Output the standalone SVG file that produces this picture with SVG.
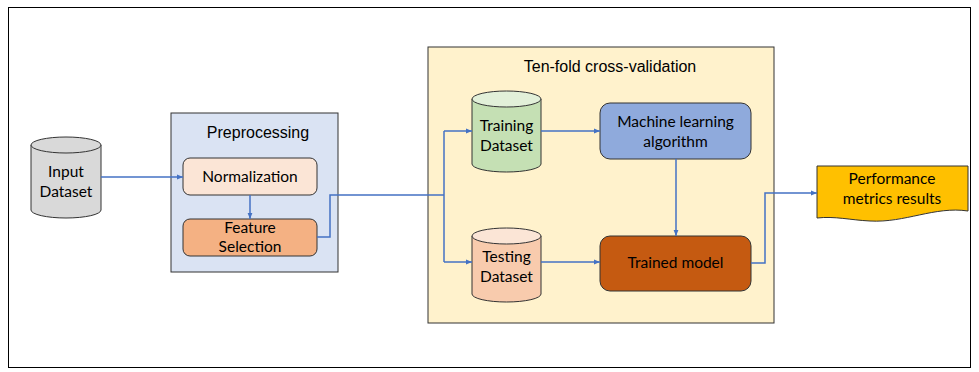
<svg xmlns="http://www.w3.org/2000/svg" width="979" height="372" viewBox="0 0 979 372">
<style>
.lbl{font-family:Lato,"Liberation Sans",sans-serif;font-size:15.5px;fill:#000;text-anchor:middle}
.ttl{font-family:"Liberation Sans",Arial,sans-serif;font-size:16px;fill:#000;text-anchor:middle}
.conn{fill:none;stroke:#4472c4;stroke-width:1.5}
.edge{stroke:#333;stroke-width:1}
</style>
<defs>
<marker id="ah" viewBox="0 0 10 10" refX="10" refY="5" markerWidth="6" markerHeight="6" orient="auto" markerUnits="userSpaceOnUse">
<path d="M0,1 L10,5 L0,9 Z" fill="#4472c4"/>
</marker>
</defs>
<rect x="0" y="0" width="979" height="372" fill="#fff"/>
<rect x="8.5" y="7.5" width="962" height="360" fill="none" stroke="#000" stroke-width="1"/>

<g id="preprocessing">
<rect x="171" y="113" width="167" height="159" fill="#dae3f3" stroke="#333" stroke-width="1"/>
<text class="ttl" x="258" y="138">Preprocessing</text>
</g>
<g id="crossval">
<rect x="428" y="47" width="346" height="276" fill="#fff2cc" stroke="#333" stroke-width="1"/>
<text class="ttl" x="610" y="72">Ten-fold cross-validation</text>
</g>

<g id="input">
<path class="edge" d="M31,145 V210 A35,8 0 0 0 101,210 V145" fill="#d9d9d9"/>
<ellipse class="edge" cx="66" cy="145" rx="35" ry="8" fill="#d9d9d9"/>
<text class="lbl" x="66" y="177">Input</text>
<text class="lbl" x="66" y="197">Dataset</text>
</g>

<g id="normalization">
<rect class="edge" x="183" y="158" width="134" height="37" rx="7" fill="#fbe5d6"/>
<text class="lbl" x="250" y="182">Normalization</text>
</g>
<g id="feature">
<rect class="edge" x="183" y="219" width="134" height="37" rx="7" fill="#f4b183"/>
<text class="lbl" x="250" y="233">Feature</text>
<text class="lbl" x="250" y="252">Selection</text>
</g>

<g id="training">
<path class="edge" d="M472,99 V164 A34.5,8 0 0 0 541,164 V99" fill="#c5e0b4"/>
<ellipse class="edge" cx="506.5" cy="99" rx="34.5" ry="8" fill="#e2f0d9"/>
<text class="lbl" x="506.5" y="131">Training</text>
<text class="lbl" x="506.5" y="151">Dataset</text>
</g>
<g id="testing">
<path class="edge" d="M472,236 V294 A34.5,8 0 0 0 541,294 V236" fill="#f8cbad"/>
<ellipse class="edge" cx="506.5" cy="236" rx="34.5" ry="8" fill="#fbe5d6"/>
<text class="lbl" x="506.5" y="262">Testing</text>
<text class="lbl" x="506.5" y="282">Dataset</text>
</g>

<g id="ml">
<rect class="edge" x="600" y="103" width="151" height="56" rx="10" fill="#8faadc"/>
<text class="lbl" x="675.5" y="127">Machine learning</text>
<text class="lbl" x="675.5" y="147">algorithm</text>
</g>
<g id="trained">
<rect class="edge" x="600" y="236" width="151" height="55" rx="10" fill="#c55a11"/>
<text class="lbl" x="675.5" y="268">Trained model</text>
</g>

<g id="performance">
<path class="edge" d="M817,166 H968 V211 C935,206 905,223 870,221 C850,220 835,216 817,218 Z" fill="#ffc000"/>
<text class="lbl" x="892" y="184">Performance</text>
<text class="lbl" x="892" y="204">metrics results</text>
</g>

<g id="connectors">
<path class="conn" d="M101,177 H183" marker-end="url(#ah)"/>
<path class="conn" d="M250,195 V219" marker-end="url(#ah)"/>
<path class="conn" d="M317,237 H330 V195 H444"/>
<path class="conn" d="M444,131 V262"/>
<path class="conn" d="M444,131 H472" marker-end="url(#ah)"/>
<path class="conn" d="M444,262 H472" marker-end="url(#ah)"/>
<path class="conn" d="M541,131 H600" marker-end="url(#ah)"/>
<path class="conn" d="M541,262 H600" marker-end="url(#ah)"/>
<path class="conn" d="M676,159 V236" marker-end="url(#ah)"/>
<path class="conn" d="M751,263 H765 V193 H817" marker-end="url(#ah)"/>
</g>
</svg>
